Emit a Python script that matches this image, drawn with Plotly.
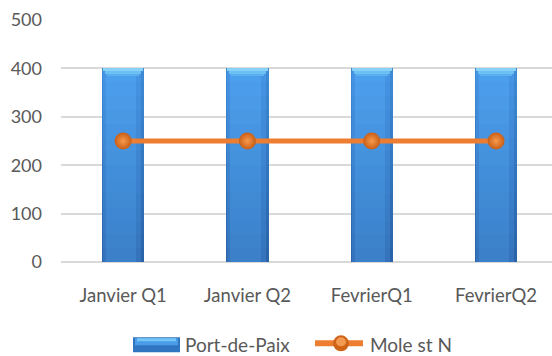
import plotly.graph_objects as go

categories = ["Janvier Q1", "Janvier Q2", "FevrierQ1", "FevrierQ2"]
port_de_paix = [400, 400, 400, 400]
mole_st_n = [250, 250, 250, 250]
series_names = ["Port-de-Paix", "Mole st N"]
y_ticks = [0, 100, 200, 300, 400, 500]

FONT = "Lato"
TXT = "#595959"
x = list(range(len(categories)))
PXU = 1 / 124.3  # one pixel in x-axis units


def mix(c1, c2, t):
    a = [int(c1[i:i + 2], 16) for i in (1, 3, 5)]
    b = [int(c2[i:i + 2], 16) for i in (1, 3, 5)]
    return "#" + "".join(f"{round(p + (q - p) * t):02X}" for p, q in zip(a, b))


fig = go.Figure()

# Column bars, shaded: each column is split into horizontal slices whose colour
# darkens towards the base; an inner layer gives the lighter body, the outer
# layer the darker rim (stronger on the right).
BAR_W = 0.34
N_SLICES = 14
rims = ("#3E8AD6", "#2A62A6")     # outer rim colour top -> bottom
bodies = ("#4DA0EE", "#3A7FC8")   # body colour top -> bottom
mids = ("#4595E4", "#3473BC")
for k in range(N_SLICES):
    t = (k + 0.5) / N_SLICES
    y_seg = [v / N_SLICES for v in port_de_paix]
    base = [v * (1 - (k + 1) / N_SLICES) for v in port_de_paix]
    for (c_top, c_bot), w, off in [
        (rims, BAR_W, -BAR_W / 2),
        (mids, BAR_W - 4 * PXU, -BAR_W / 2 + 1 * PXU),
        (bodies, BAR_W - 12 * PXU, -BAR_W / 2 + 4 * PXU),
    ]:
        fig.add_trace(go.Bar(x=x, y=y_seg, base=base, width=w, offset=off,
                             marker_color=mix(c_top, c_bot, t), marker_line_width=0,
                             showlegend=False, hoverinfo="skip"))

# lighter bevel at the top of each column
for depth, w, c in [(16, BAR_W - 10 * PXU, "#5AB0F1"),
                    (12, BAR_W - 6 * PXU, "#6CC0F4"),
                    (6, BAR_W - 2 * PXU, "#86D2F8")]:
    fig.add_trace(go.Bar(x=x, y=[depth] * len(x), base=[v - depth for v in port_de_paix],
                         width=w, offset=-w / 2, marker_color=c, marker_line_width=0,
                         showlegend=False, hoverinfo="skip"))

fig.add_trace(go.Scatter(
    x=x, y=mole_st_n, mode="lines+markers", name=series_names[1],
    line=dict(color="#ED7D31", width=5),
    marker=dict(size=17, color="#C95E17",
                gradient=dict(type="radial", color="#F79A4C"), line_width=0),
    showlegend=False,
))

# Legend drawn in paper space below the plot
L, PW, BASE, PH = 61, 491, 262.5, 242.5
def px(v): return (v - L) / PW
def py(v): return (BASE - v) / PH

shapes = [
    dict(type="rect", xref="paper", yref="paper", x0=px(133), x1=px(180),
         y0=py(353), y1=py(338), fillcolor="#3075BF", line_width=0, layer="above"),
    dict(type="rect", xref="paper", yref="paper", x0=px(135), x1=px(178),
         y0=py(346), y1=py(339), fillcolor="#4A9CE8", line_width=0, layer="above"),
    dict(type="rect", xref="paper", yref="paper", x0=px(137), x1=px(176),
         y0=py(342), y1=py(339), fillcolor="#74C6F6", line_width=0, layer="above"),
    dict(type="line", xref="paper", yref="paper", x0=px(315), x1=px(363),
         y0=py(344), y1=py(344), line=dict(color="#ED7D31", width=6), layer="above"),
    dict(type="circle", xref="paper", yref="paper", x0=px(333), x1=px(349),
         y0=py(352), y1=py(336), fillcolor="#CF6419", line_width=0, layer="above"),
    dict(type="circle", xref="paper", yref="paper", x0=px(336), x1=px(346),
         y0=py(347), y1=py(338), fillcolor="#F39A52", line_width=0, layer="above"),
]
annotations = [
    dict(text=series_names[0], xref="paper", yref="paper", x=px(183), y=py(345),
         xanchor="left", yanchor="middle", showarrow=False,
         font=dict(family=FONT, size=19, color=TXT)),
    dict(text=series_names[1], xref="paper", yref="paper", x=px(368), y=py(345),
         xanchor="left", yanchor="middle", showarrow=False,
         font=dict(family=FONT, size=19, color=TXT)),
]

fig.update_layout(
    width=552, height=356,
    margin=dict(l=L, r=0, t=20, b=356 - BASE),
    paper_bgcolor="white", plot_bgcolor="white",
    barmode="overlay", bargap=0,
    font=dict(family=FONT, size=18, color=TXT),
    shapes=shapes, annotations=annotations,
    xaxis=dict(range=[-0.5, -0.5 + PW * PXU], tickvals=x, ticktext=categories,
               showgrid=False, zeroline=False, showline=False, ticks="",
               ticklabelstandoff=20, fixedrange=True,
               tickfont=dict(family=FONT, size=18.5, color=TXT)),
    yaxis=dict(range=[0, 500], tickvals=y_ticks, showgrid=True, gridcolor="#D9D9D9",
               gridwidth=1.5, zeroline=True, zerolinecolor="#D9D9D9", zerolinewidth=1.5,
               showline=False, ticks="", ticklabelstandoff=18, fixedrange=True),
)

fig.write_html("out.html", config={"displayModeBar": False})
